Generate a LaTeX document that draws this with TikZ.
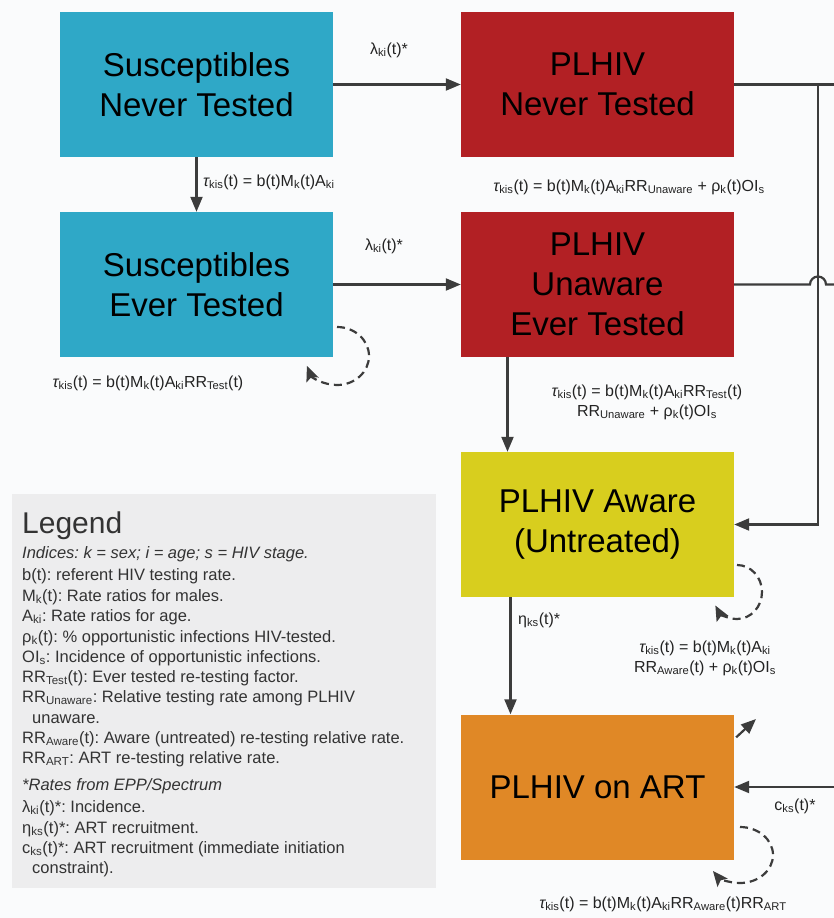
\documentclass[tikz,border=0pt]{standalone}
\usepackage{fontspec}
\setmainfont{Liberation Sans}
\usetikzlibrary{arrows.meta}
\definecolor{cteal}{RGB}{47,168,199}
\definecolor{cred}{RGB}{178,32,36}
\definecolor{cyel}{RGB}{216,206,30}
\definecolor{corg}{RGB}{224,136,38}
\definecolor{clegend}{RGB}{237,237,238}
\definecolor{cline}{RGB}{60,60,60}
\definecolor{ctext}{RGB}{35,35,35}
\definecolor{cleg}{RGB}{51,51,51}
\definecolor{cbg}{RGB}{250,251,252}
\newcommand{\lo}[1]{\textsubscript{#1}}
\newcommand{\tauk}{{\itshape τ}\lo{kis}(t)}
\frenchspacing
\begin{document}
\begin{tikzpicture}[x=1pt,y=1pt,
  box/.style={draw=none, minimum width=273pt, minimum height=145pt, inner sep=0pt, align=center, text=black, font=\fontsize{33}{40}\selectfont},
  ln/.style={line width=2.2pt, draw=cline},
  con/.style={ln, -{Triangle[length=15pt,width=12pt]}},
  loopst/.style={line width=2.2pt, draw=cline, dash pattern=on 8pt off 5pt, -{Stealth[length=15pt,width=13pt,inset=3pt]}},
  lab/.style={inner sep=0pt, text=ctext, font=\fontsize{16}{20}\selectfont, align=center},
  leg/.style={inner sep=0pt, anchor=base west, text=cleg, font=\fontsize{16.5}{20}\selectfont}]
\fill[cbg] (0,0) rectangle (834,-918);
\useasboundingbox (0,0) rectangle (834,-918);
% boxes
\node[box, fill=cteal] (A) at (196.5,-84.5) {Susceptibles\\Never Tested};
\node[box, fill=cred] (B) at (597.5,-84.5) {PLHIV\\Never Tested};
\node[box, fill=cteal] (C) at (196.5,-284.5) {Susceptibles\\Ever Tested};
\node[box, fill=cred] (D) at (597.5,-284.5) {PLHIV\\Unaware\\Ever Tested};
\node[box, fill=cyel] (E) at (597.5,-524.5) {PLHIV Aware\\(Untreated)};
\node[box, fill=corg] (F) at (597.5,-787) {PLHIV on ART};
% legend box
\node[fill=clegend, minimum width=424pt, minimum height=394pt, inner sep=0pt, anchor=north west] (LB) at (12,-494) {};
% connectors
\draw[con] (A.east) -- (B.west);
\draw[con] (C.east) -- (D.west);
\draw[con] (A.south) -- (C.north);
\draw[con] ([xshift=-90pt]D.south) -- ([xshift=-90pt]E.north);
\draw[con] ([xshift=-87pt]E.south) -- ([xshift=-87pt]F.north);
\coordinate (rB) at (834,-84.5);
\coordinate (jB) at (818,-84.5);
\draw[ln] (B.east) -- (rB);
\draw[con] (jB) |- (E.east);
\coordinate (h1) at (810,-284.5);
\coordinate (rD) at (834,-284.5);
\draw[ln] (D.east) -- (h1) arc[start angle=180, end angle=0, radius=8pt] -- (rD);
\coordinate (rF) at (834,-787);
\draw[con] (rF) -- (F.east);
\coordinate (Fout) at (756,-719);
\draw[con] ([shift={(2pt,-23pt)}]F.north east) -- (Fout);
% loops
\coordinate (Cl) at (337,-327);
\draw[loopst] (Cl) arc[start angle=90, end angle=-160, x radius=32pt, y radius=29pt];
\coordinate (El) at (737,-565);
\draw[loopst] (El) arc[start angle=90, end angle=-150, x radius=25pt, y radius=27pt];
\coordinate (Fl) at (740,-827);
\draw[loopst] (Fl) arc[start angle=90, end angle=-145, x radius=33pt, y radius=28pt];
% labels
\node[lab] (l1) at (389,-50) {λ\lo{ki}(t)*};
\node[lab] (l2) at (384,-246) {λ\lo{ki}(t)*};
\node[lab, anchor=west] (l3) at (203,-182) {\tauk{} = b(t)M\lo{k}(t)A\lo{ki}};
\node[lab] (l4) at (629,-187) {\tauk{} = b(t)M\lo{k}(t)A\lo{ki}RR\lo{Unaware} + ρ\lo{k}(t)OI\lo{s}};
\node[lab] (l5) at (148,-383) {\tauk{} = b(t)M\lo{k}(t)A\lo{ki}RR\lo{Test}(t)};
\node[lab] (l6) at (647,-402) {\tauk{} = b(t)M\lo{k}(t)A\lo{ki}RR\lo{Test}(t)\\RR\lo{Unaware} + ρ\lo{k}(t)OI\lo{s}};
\node[lab] (l7) at (705,-658) {\tauk{} = b(t)M\lo{k}(t)A\lo{ki}\\RR\lo{Aware}(t) + ρ\lo{k}(t)OI\lo{s}};
\node[lab, anchor=west] (l8) at (518,-620) {η\lo{ks}(t)*};
\node[lab] (l9) at (795,-806) {c\lo{ks}(t)*};
\node[lab] (l10) at (663,-904) {\tauk{} = b(t)M\lo{k}(t)A\lo{ki}RR\lo{Aware}(t)RR\lo{ART}};
% legend text
\node[leg, font=\fontsize{30}{34}\selectfont] (g0) at (22,-533) {Legend};
\node[leg] (g1) at (22,-558) {\itshape Indices: k = sex; i = age; s = HIV stage.};
\node[leg] (g2) at (22,-580) {b(t): referent HIV testing rate.};
\node[leg] (g3) at (22,-601) {M\lo{k}(t): Rate ratios for males.};
\node[leg] (g4) at (22,-621) {A\lo{ki}: Rate ratios for age.};
\node[leg] (g5) at (22,-642) {ρ\lo{k}(t): \% opportunistic infections HIV-tested.};
\node[leg] (g6) at (22,-662) {OI\lo{s}: Incidence of opportunistic infections.};
\node[leg] (g7) at (22,-682) {RR\lo{Test}(t): Ever tested re-testing factor.};
\node[leg] (g8) at (22,-702) {RR\lo{Unaware}: Relative testing rate among PLHIV};
\node[leg] (g9) at (32,-723) {unaware.};
\node[leg] (g10) at (22,-743) {RR\lo{Aware}(t): Aware (untreated) re-testing relative rate.};
\node[leg] (g11) at (22,-763) {RR\lo{ART}: ART re-testing relative rate.};
\node[leg] (g12) at (22,-790) {\itshape *Rates from EPP/Spectrum};
\node[leg] (g13) at (22,-812) {λ\lo{ki}(t)*: Incidence.};
\node[leg] (g14) at (22,-833) {η\lo{ks}(t)*: ART recruitment.};
\node[leg] (g15) at (22,-853) {c\lo{ks}(t)*: ART recruitment (immediate initiation};
\node[leg] (g16) at (32,-873) {constraint).};
\end{tikzpicture}
\end{document}
